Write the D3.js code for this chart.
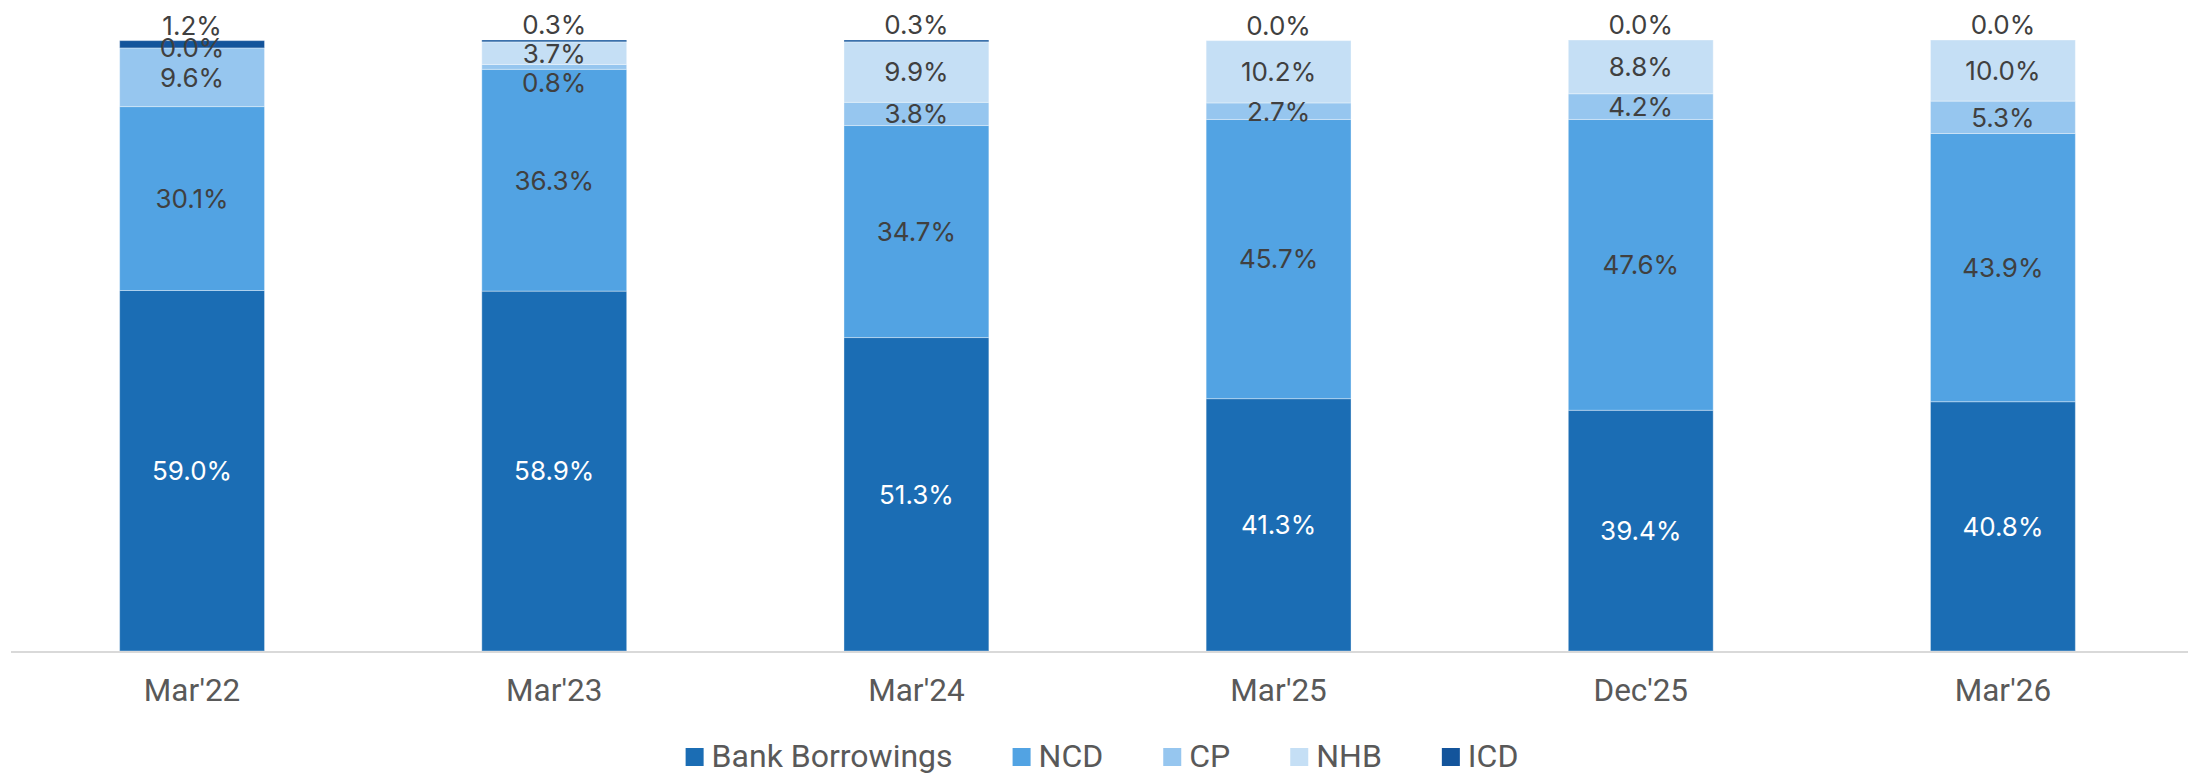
<!DOCTYPE html>
<html>
<head>
<meta charset="utf-8">
<script src="https://cdn.jsdelivr.net/npm/d3@7"></script>
<style>
  html, body { margin: 0; padding: 0; background: #fff; }
  text { font-family: Roboto, "Noto Sans", sans-serif; }
</style>
</head>
<body>
<div id="area"></div>
<script>
let categories = ["Mar'22", "Mar'23", "Mar'24", "Mar'25", "Dec'25", "Mar'26"];

let seriesNames = ["Bank Borrowings", "NCD", "CP", "NHB", "ICD"];

let bankBorrowings = [59.0, 58.9, 51.3, 41.3, 39.4, 40.8];
let ncd            = [30.1, 36.3, 34.7, 45.7, 47.6, 43.9];
let cp             = [ 9.6,  0.8,  3.8,  2.7,  4.2,  5.3];
let nhb            = [ 0.0,  3.7,  9.9, 10.2,  8.8, 10.0];
let icd            = [ 1.2,  0.3,  0.3,  0.0,  0.0,  0.0];

let colors = ["#1b6db4", "#52a3e3", "#96c6ef", "#c5dff5", "#13549b"];
let labelColors = ["#ffffff", "#404040", "#404040", "#404040", "#404040"];

let margin = {
  top:    40,
  right:  5,
  bottom: 124,
  left:   11
};

let exteriorWidth  = 2188,
    exteriorHeight = 775;

let interiorWidth  = exteriorWidth - margin.left - margin.right,
    interiorHeight = exteriorHeight - margin.top - margin.bottom;

let svg =
  d3.select("#area")
    .append("svg")
      .attr("width", exteriorWidth)
      .attr("height", exteriorHeight)
    .append("g")
      .attr("transform", translate(margin.left, margin.top));

// one row per category, keyed by series name
let allSeries = [bankBorrowings, ncd, cp, nhb, icd];
let data = categories.map(function(c, i) {
  let row = {category: c};
  seriesNames.forEach(function(s, j) { row[s] = allSeries[j][i]; });
  return row;
});

let stacked = d3.stack().keys(seriesNames)(data);

let x =
  d3.scaleBand()
    .domain(categories)
    .range([0, interiorWidth + 1])
    .paddingInner(0.6)
    .paddingOuter(0.3);

let y =
  d3.scaleLinear()
    .domain([0, 100])
    .range([interiorHeight, 0]);

let color =
  d3.scaleOrdinal()
    .domain(seriesNames)
    .range(colors);

let layers =
  svg.selectAll("g.layer")
    .data(stacked)
    .enter()
    .append("g")
      .attr("class", "layer")
      .attr("fill", function(d) { return color(d.key); });

layers.selectAll("rect")
    .data(function(d) { return d; })
    .enter()
    .append("rect")
      .attr("x", function(d) { return x(d.data.category); })
      .attr("y", function(d) { return y(d[1]); })
      .attr("width", x.bandwidth())
      .attr("height", function(d) { return y(d[0]) - y(d[1]); })
      .attr("stroke", "rgba(255,255,255,0.35)")
      .attr("stroke-width", 1);

// axis line
svg.append("line")
    .attr("x1", 0)
    .attr("x2", exteriorWidth - margin.left)
    .attr("y1", interiorHeight + 1)
    .attr("y2", interiorHeight + 1)
    .attr("stroke", "#d9d9d9")
    .attr("stroke-width", 2);

let xAxis =
  svg.append("g")
    .attr("transform", translate(0, interiorHeight))
    .call(d3.axisBottom(x).tickSize(0).tickPadding(28));

xAxis.select(".domain").remove();
xAxis.selectAll("text")
    .attr("font-size", 31.5)
    .attr("fill", "#595959")
    .style("font-family", "Roboto, sans-serif");

// data labels: centred, ICD above bar, small segments pushed down
let labels = [];
categories.forEach(function(c, i) {
  let prev = -Infinity;
  for (let k = stacked.length - 1; k >= 0; k--) {
    let seg = stacked[k][i];
    let cy;
    if (stacked[k].key === "ICD") {
      cy = y(seg[1]) - 15;
    } else {
      cy = (y(seg[0]) + y(seg[1])) / 2;
      if (k < stacked.length - 2 && cy - prev < 30) cy = prev + 30;
      prev = cy;
    }
    labels.push({
      x: x(c) + x.bandwidth() / 2,
      y: cy,
      text: d3.format(".1f")(seg.data[stacked[k].key]) + "%",
      fill: labelColors[k]
    });
  }
});

svg.append("g")
    .selectAll("text")
    .data(labels)
    .enter()
    .append("text")
      .attr("x", function(d) { return d.x; })
      .attr("y", function(d) { return d.y; })
      .attr("dy", "0.36em")
      .attr("text-anchor", "middle")
      .attr("font-size", 26)
      .attr("fill", function(d) { return d.fill; })
      .style("font-family", "Inter, Roboto, sans-serif")
      .text(function(d) { return d.text; });

// legend
let legendY = 755;
let legend =
  d3.select("svg")
    .append("g")
      .attr("transform", translate(0, legendY));

let lx = 0;
seriesNames.forEach(function(s, j) {
  let item = legend.append("g").attr("transform", translate(lx, 0));
  item.append("rect")
      .attr("x", 0)
      .attr("y", -7)
      .attr("width", 18)
      .attr("height", 18)
      .attr("fill", color(s));
  let t = item.append("text")
      .attr("x", 26)
      .attr("dy", "0.36em")
      .attr("font-size", 32)
      .attr("fill", "#595959")
      .text(s);
  lx += 26 + t.node().getComputedTextLength() + 60;
});
lx -= 60;
legend.attr("transform", translate((exteriorWidth - lx) / 2 + 8, legendY));


function translate(x, y=0) {
  return "translate({x}, {y})"
          .replace("{x}", x)
          .replace("{y}", y);
}
</script>
</body>
</html>
